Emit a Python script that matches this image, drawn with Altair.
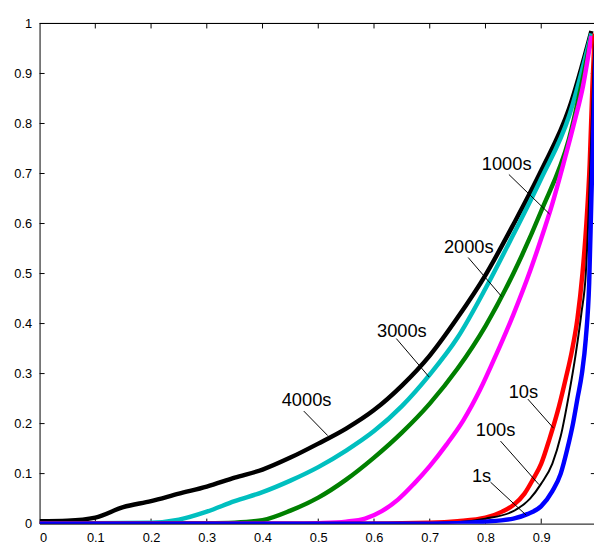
import altair as alt
import pandas as pd

# ---- data ----
x_4000 = [0, 0.05, 0.1, 0.15, 0.2, 0.25, 0.3, 0.35, 0.4, 0.45, 0.5, 0.55, 0.6, 0.65, 0.7, 0.75, 0.8, 0.85, 0.9, 0.95, 0.99]
y_4000 = [0.005, 0.006, 0.012, 0.033, 0.045, 0.06, 0.074, 0.092, 0.108, 0.132, 0.16, 0.19, 0.227, 0.276, 0.336, 0.412, 0.497, 0.598, 0.706, 0.83, 0.985]

x_3000 = [0, 0.2, 0.25, 0.3, 0.35, 0.4, 0.45, 0.5, 0.55, 0.6, 0.65, 0.7, 0.75, 0.8, 0.85, 0.9, 0.95, 0.99]
y_3000 = [0, 0.002, 0.008, 0.024, 0.045, 0.063, 0.086, 0.113, 0.146, 0.185, 0.235, 0.298, 0.372, 0.47, 0.578, 0.69, 0.815, 0.98]

x_2000 = [0, 0.3, 0.35, 0.4, 0.45, 0.5, 0.55, 0.6, 0.65, 0.7, 0.75, 0.8, 0.85, 0.9, 0.95, 0.99]
y_2000 = [0, 0.001, 0.002, 0.007, 0.026, 0.052, 0.088, 0.132, 0.182, 0.24, 0.31, 0.395, 0.5, 0.625, 0.77, 0.975]

x_1000 = [0, 0.45, 0.5, 0.55, 0.584, 0.614, 0.643, 0.672, 0.7, 0.73, 0.76, 0.79, 0.82, 0.85, 0.88, 0.9, 0.92, 0.94, 0.96, 0.975, 0.99]
y_1000 = [0, 0, 0.001, 0.004, 0.01, 0.025, 0.048, 0.08, 0.115, 0.158, 0.206, 0.267, 0.34, 0.418, 0.505, 0.57, 0.64, 0.72, 0.805, 0.875, 0.975]

x_10 = [0, 0.55, 0.7, 0.75, 0.8, 0.83, 0.85, 0.87, 0.885, 0.9, 0.915, 0.932, 0.944, 0.955, 0.965, 0.974, 0.981, 0.987, 0.992, 0.996]
y_10 = [0, 0, 0.002, 0.005, 0.012, 0.024, 0.037, 0.06, 0.088, 0.12, 0.17, 0.235, 0.29, 0.345, 0.41, 0.5, 0.6, 0.72, 0.88, 0.98]

x_100 = [0, 0.65, 0.75, 0.8, 0.85, 0.88, 0.9, 0.92, 0.935, 0.95, 0.962, 0.972, 0.98, 0.985, 0.99, 0.994, 0.998]
y_100 = [0, 0, 0.003, 0.01, 0.025, 0.05, 0.08, 0.12, 0.175, 0.26, 0.34, 0.42, 0.5, 0.62, 0.78, 0.92, 0.99]

x_1 = [0, 0.7, 0.8, 0.85, 0.875, 0.9, 0.92, 0.935, 0.947, 0.957, 0.965, 0.973, 0.98, 0.986, 0.99, 0.995, 1.0]
y_1 = [0, 0, 0.004, 0.01, 0.019, 0.035, 0.065, 0.1, 0.15, 0.2, 0.25, 0.3, 0.37, 0.48, 0.65, 0.85, 1.0]

series_names = ["4000s", "3000s", "2000s", "1000s", "10s", "100s", "1s"]
series_x = [x_4000, x_3000, x_2000, x_1000, x_10, x_100, x_1]
series_y = [y_4000, y_3000, y_2000, y_1000, y_10, y_100, y_1]
series_colors = ["#000000", "#00bfbf", "#008000", "#ff00ff", "#ff0000", "#000000", "#0000ff"]
series_widths = [4.5, 4.5, 4.5, 4.5, 4.5, 2, 4.5]

# annotations: label text, label position, leader start, leader end
ann_text = ["4000s", "3000s", "2000s", "1000s", "10s", "100s", "1s"]
ann_tx = [0.479, 0.650, 0.770, 0.838, 0.868, 0.818, 0.793]
ann_ty = [0.247, 0.384, 0.552, 0.718, 0.263, 0.187, 0.096]
ann_x1 = [0.474, 0.640, 0.769, 0.842, 0.876, 0.827, 0.809]
ann_y1 = [0.225, 0.370, 0.532, 0.698, 0.249, 0.165, 0.083]
ann_x2 = [0.517, 0.699, 0.829, 0.915, 0.922, 0.896, 0.873]
ann_y2 = [0.176, 0.293, 0.454, 0.619, 0.191, 0.078, 0.017]

x_ticks = [0, 0.1, 0.2, 0.3, 0.4, 0.5, 0.6, 0.7, 0.8, 0.9]
y_ticks = [0, 0.1, 0.2, 0.3, 0.4, 0.5, 0.6, 0.7, 0.8, 0.9, 1]
inner_ticks = [0.1, 0.2, 0.3, 0.4, 0.5, 0.6, 0.7, 0.8, 0.9]

FONT = "Liberation Sans"

xs = alt.Scale(domain=[0, 1], range=[0, 565], nice=False, zero=False)
ys = alt.Scale(domain=[0, 1], nice=False, zero=False)

x_axis = alt.Axis(values=x_ticks, format="~g", ticks=False, labelPadding=8, grid=False,
                  domainColor="black", labelColor="black", labelFont=FONT, labelFontSize=13)
y_axis = alt.Axis(values=y_ticks, format="~g", ticks=False, labelPadding=8, grid=False,
                  domainColor="black", labelColor="black", labelFont=FONT, labelFontSize=13)

layers = []

# base layer carrying the axes (invisible)
base_df = pd.DataFrame({"x": [0, 1], "y": [0, 1]})
layers.append(
    alt.Chart(base_df).mark_point(opacity=0).encode(
        x=alt.X("x:Q", scale=xs, axis=x_axis, title=None),
        y=alt.Y("y:Q", scale=ys, axis=y_axis, title=None),
    )
)

# top frame line
layers.append(alt.Chart(base_df).mark_rule(color="black", strokeWidth=1).encode(y=alt.datum(1)))

# inward tick marks
tick_df = pd.DataFrame({"t": inner_ticks})
layers.append(alt.Chart(tick_df).mark_rule(color="black", strokeWidth=1).encode(
    x=alt.X("t:Q", scale=xs), y=alt.datum(0), y2=alt.datum(0.01)))
layers.append(alt.Chart(tick_df).mark_rule(color="black", strokeWidth=1).encode(
    x=alt.X("t:Q", scale=xs), y=alt.datum(1), y2=alt.datum(0.99)))
layers.append(alt.Chart(tick_df).mark_rule(color="black", strokeWidth=1).encode(
    y=alt.Y("t:Q", scale=ys), x=alt.datum(0), x2=alt.datum(0.009)))
layers.append(alt.Chart(tick_df).mark_rule(color="black", strokeWidth=1, clip=True).encode(
    y=alt.Y("t:Q", scale=ys), x=alt.datum(1), x2=alt.datum(0.989)))

# curves
for name, sx, sy, col, w in zip(series_names, series_x, series_y, series_colors, series_widths):
    df = pd.DataFrame({"x": sx, "y": sy})
    layers.append(
        alt.Chart(df).mark_line(color=col, strokeWidth=w, interpolate="monotone", clip=True).encode(
            x=alt.X("x:Q", scale=xs),
            y=alt.Y("y:Q", scale=ys),
        )
    )

# annotation leaders and labels
ann_df = pd.DataFrame({"text": ann_text, "tx": ann_tx, "ty": ann_ty,
                       "x1": ann_x1, "y1": ann_y1, "x2": ann_x2, "y2": ann_y2})
layers.append(alt.Chart(ann_df).mark_rule(color="black", strokeWidth=1).encode(
    x=alt.X("x1:Q", scale=xs), y=alt.Y("y1:Q", scale=ys),
    x2="x2:Q", y2="y2:Q"))
layers.append(alt.Chart(ann_df).mark_text(font=FONT, fontSize=18.5, color="black",
                                          align="center", baseline="middle").encode(
    x=alt.X("tx:Q", scale=xs), y=alt.Y("ty:Q", scale=ys), text="text:N"))

chart = alt.layer(*layers).properties(
    width=562, height=507,
    autosize=alt.AutoSizeParams(type="none"),
    padding={"left": 32, "top": 12, "right": 0, "bottom": 18},
).configure_view(stroke=None)

chart.save("out.html", embed_options={"renderer": "svg", "actions": False})
